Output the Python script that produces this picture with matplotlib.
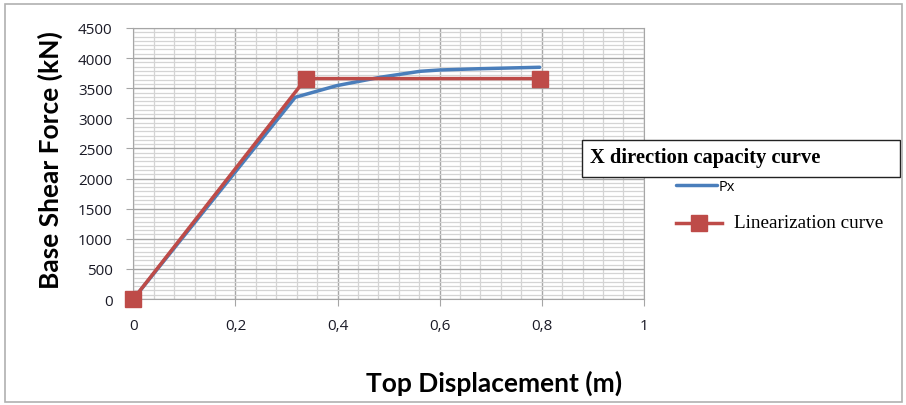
import matplotlib.pyplot as plt
import numpy as np
from matplotlib.ticker import AutoMinorLocator, FuncFormatter
from matplotlib.patches import Rectangle
from matplotlib.lines import Line2D

# pushover curve (X direction) and its bilinear idealisation
px_disp = [0.0, 0.317, 0.398, 0.483, 0.562, 0.601, 0.679, 0.796]
px_force = [0, 3349, 3542, 3681, 3781, 3803, 3824, 3848]

lin_disp = [0.0, 0.338, 0.797]
lin_force = [0, 3660, 3660]

x_ticks = [0, 0.2, 0.4, 0.6, 0.8, 1.0]
y_ticks = [0, 500, 1000, 1500, 2000, 2500, 3000, 3500, 4000, 4500]

blue = "#4a7ebb"
red = "#be4b48"

fig = plt.figure(figsize=(9.06, 4.06), dpi=100)
ax = fig.add_axes([0.1472, 0.261, 0.5634, 0.6676])

ax.plot(px_disp, px_force, color=blue, lw=2.5, solid_capstyle="round")
ax.plot(lin_disp, lin_force, color=red, lw=2.5, marker="s", markersize=11,
        clip_on=False, zorder=3)

ax.set_xlim(0, 1)
ax.set_ylim(0, 4500)
ax.set_xticks(x_ticks)
ax.set_yticks(y_ticks)
ax.xaxis.set_minor_locator(AutoMinorLocator(5))
ax.yaxis.set_minor_locator(AutoMinorLocator(7))
ax.xaxis.set_major_formatter(FuncFormatter(lambda v, p: f"{v:g}".replace(".", ",")))

ax.grid(which="major", color="#a6a6a6", lw=1.0)
ax.grid(which="minor", color="#d4d4d4", lw=0.9)
ax.set_axisbelow(True)
for s in ax.spines.values():
    s.set_color("#a6a6a6")

ax.tick_params(which="major", length=5, color="#a6a6a6", labelsize=12,
               labelcolor="#1a1a26", labelfontfamily="Open Sans")
ax.tick_params(which="minor", length=0)
ax.tick_params(axis="x", pad=9)
ax.tick_params(axis="y", pad=10)
for lbl in ax.get_xticklabels() + ax.get_yticklabels():
    lbl.set_fontsize(11)

fig.text(0.056, 0.605, "Base Shear Force (kN)", fontsize=19, fontweight="bold",
         family="Lato", rotation=90, ha="center", va="center")
fig.text(0.545, 0.055, "Top Displacement (m)", fontsize=19, fontweight="bold",
         family="Lato", ha="center", va="center")

# legend: boxed title with the two entries underneath
fig.patches.append(Rectangle((582 / 906, 1 - 178 / 406), 318 / 906, 37 / 406,
                             transform=fig.transFigure, fc="white", ec="#222222", lw=1.0))
fig.text(590 / 906, 1 - 158 / 406, "X direction capacity curve", fontsize=14.8,
         fontweight="bold", family="Liberation Serif", ha="left", va="center")

fig.add_artist(Line2D([676 / 906, 717 / 906], [1 - 186 / 406] * 2, color=blue, lw=2.5,
                      solid_capstyle="round"))
fig.text(719 / 906, 1 - 188 / 406, "Px", fontsize=10.5, family="Open Sans",
         ha="left", va="center")
fig.add_artist(Line2D([676 / 906, 722 / 906], [1 - 224 / 406] * 2, color=red, lw=2.5))
fig.add_artist(Line2D([699 / 906], [1 - 224 / 406], color=red, marker="s", markersize=11))
fig.text(734 / 906, 1 - 224 / 406, "Linearization curve", fontsize=13.8,
         family="Liberation Serif", ha="left", va="center")

# chart outline
fig.patches.append(Rectangle((0.006, 0.008), 0.99, 0.98, transform=fig.transFigure,
                             fill=False, ec="#b0b0b0", lw=1.2))

fig.savefig("out.png", dpi=100)
